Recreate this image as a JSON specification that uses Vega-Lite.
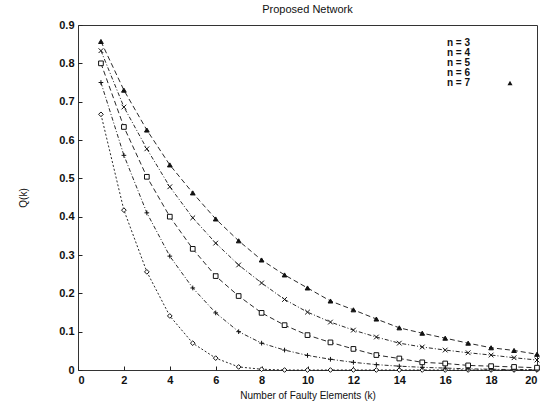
{
  "$schema": "https://vega.github.io/schema/vega-lite/v6.json",
  "autosize": {"type": "none"},
  "padding": {"left": 78, "top": 25, "right": 11, "bottom": 34},
  "width": 459,
  "height": 345,
  "title": {"text": "Proposed Network", "fontSize": 11, "fontWeight": "normal", "font": "Liberation Sans", "offset": 4, "color": "#111"},
  "data": {"values": [
    {"n": "n = 3", "k": 1, "q": 0.667}, {"n": "n = 3", "k": 2, "q": 0.417}, {"n": "n = 3", "k": 3, "q": 0.256}, {"n": "n = 3", "k": 4, "q": 0.141}, {"n": "n = 3", "k": 5, "q": 0.07}, {"n": "n = 3", "k": 6, "q": 0.031}, {"n": "n = 3", "k": 7, "q": 0.008}, {"n": "n = 3", "k": 8, "q": 0.002}, {"n": "n = 3", "k": 9, "q": 0}, {"n": "n = 3", "k": 10, "q": 0}, {"n": "n = 3", "k": 11, "q": 0}, {"n": "n = 3", "k": 12, "q": 0}, {"n": "n = 3", "k": 13, "q": 0}, {"n": "n = 3", "k": 14, "q": 0}, {"n": "n = 3", "k": 15, "q": 0}, {"n": "n = 3", "k": 16, "q": 0}, {"n": "n = 3", "k": 17, "q": 0}, {"n": "n = 3", "k": 18, "q": 0}, {"n": "n = 3", "k": 19, "q": 0}, {"n": "n = 3", "k": 20, "q": 0},
    {"n": "n = 4", "k": 1, "q": 0.75}, {"n": "n = 4", "k": 2, "q": 0.56}, {"n": "n = 4", "k": 3, "q": 0.41}, {"n": "n = 4", "k": 4, "q": 0.297}, {"n": "n = 4", "k": 5, "q": 0.214}, {"n": "n = 4", "k": 6, "q": 0.149}, {"n": "n = 4", "k": 7, "q": 0.1}, {"n": "n = 4", "k": 8, "q": 0.07}, {"n": "n = 4", "k": 9, "q": 0.052}, {"n": "n = 4", "k": 10, "q": 0.038}, {"n": "n = 4", "k": 11, "q": 0.028}, {"n": "n = 4", "k": 12, "q": 0.02}, {"n": "n = 4", "k": 13, "q": 0.014}, {"n": "n = 4", "k": 14, "q": 0.01}, {"n": "n = 4", "k": 15, "q": 0.007}, {"n": "n = 4", "k": 16, "q": 0.005}, {"n": "n = 4", "k": 17, "q": 0.003}, {"n": "n = 4", "k": 18, "q": 0.002}, {"n": "n = 4", "k": 19, "q": 0.001}, {"n": "n = 4", "k": 20, "q": 0.001},
    {"n": "n = 5", "k": 1, "q": 0.8}, {"n": "n = 5", "k": 2, "q": 0.634}, {"n": "n = 5", "k": 3, "q": 0.504}, {"n": "n = 5", "k": 4, "q": 0.4}, {"n": "n = 5", "k": 5, "q": 0.316}, {"n": "n = 5", "k": 6, "q": 0.245}, {"n": "n = 5", "k": 7, "q": 0.193}, {"n": "n = 5", "k": 8, "q": 0.149}, {"n": "n = 5", "k": 9, "q": 0.117}, {"n": "n = 5", "k": 10, "q": 0.091}, {"n": "n = 5", "k": 11, "q": 0.072}, {"n": "n = 5", "k": 12, "q": 0.055}, {"n": "n = 5", "k": 13, "q": 0.039}, {"n": "n = 5", "k": 14, "q": 0.03}, {"n": "n = 5", "k": 15, "q": 0.02}, {"n": "n = 5", "k": 16, "q": 0.017}, {"n": "n = 5", "k": 17, "q": 0.012}, {"n": "n = 5", "k": 18, "q": 0.01}, {"n": "n = 5", "k": 19, "q": 0.008}, {"n": "n = 5", "k": 20, "q": 0.006},
    {"n": "n = 6", "k": 1, "q": 0.833}, {"n": "n = 6", "k": 2, "q": 0.686}, {"n": "n = 6", "k": 3, "q": 0.577}, {"n": "n = 6", "k": 4, "q": 0.478}, {"n": "n = 6", "k": 5, "q": 0.397}, {"n": "n = 6", "k": 6, "q": 0.331}, {"n": "n = 6", "k": 7, "q": 0.274}, {"n": "n = 6", "k": 8, "q": 0.227}, {"n": "n = 6", "k": 9, "q": 0.184}, {"n": "n = 6", "k": 10, "q": 0.151}, {"n": "n = 6", "k": 11, "q": 0.125}, {"n": "n = 6", "k": 12, "q": 0.104}, {"n": "n = 6", "k": 13, "q": 0.086}, {"n": "n = 6", "k": 14, "q": 0.07}, {"n": "n = 6", "k": 15, "q": 0.06}, {"n": "n = 6", "k": 16, "q": 0.052}, {"n": "n = 6", "k": 17, "q": 0.045}, {"n": "n = 6", "k": 18, "q": 0.039}, {"n": "n = 6", "k": 19, "q": 0.032}, {"n": "n = 6", "k": 20, "q": 0.026},
    {"n": "n = 7", "k": 1, "q": 0.857}, {"n": "n = 7", "k": 2, "q": 0.73}, {"n": "n = 7", "k": 3, "q": 0.626}, {"n": "n = 7", "k": 4, "q": 0.535}, {"n": "n = 7", "k": 5, "q": 0.462}, {"n": "n = 7", "k": 6, "q": 0.394}, {"n": "n = 7", "k": 7, "q": 0.337}, {"n": "n = 7", "k": 8, "q": 0.287}, {"n": "n = 7", "k": 9, "q": 0.248}, {"n": "n = 7", "k": 10, "q": 0.214}, {"n": "n = 7", "k": 11, "q": 0.18}, {"n": "n = 7", "k": 12, "q": 0.157}, {"n": "n = 7", "k": 13, "q": 0.133}, {"n": "n = 7", "k": 14, "q": 0.11}, {"n": "n = 7", "k": 15, "q": 0.096}, {"n": "n = 7", "k": 16, "q": 0.083}, {"n": "n = 7", "k": 17, "q": 0.07}, {"n": "n = 7", "k": 18, "q": 0.058}, {"n": "n = 7", "k": 19, "q": 0.051}, {"n": "n = 7", "k": 20, "q": 0.041}
  ]},
  "layer": [
    {
      "mark": {"type": "line", "color": "#111", "strokeWidth": 0.9},
      "encoding": {
        "x": {"field": "k", "type": "quantitative", "scale": {"domain": [0, 20], "nice": false},
              "axis": {"title": "Number of Faulty Elements (k)", "values": [0,2,4,6,8,10,12,14,16,18,20], "grid": false, "tickSize": -4, "labelPadding": 8, "titlePadding": 5, "labelOverlap": false}},
        "y": {"field": "q", "type": "quantitative", "scale": {"domain": [0, 0.9], "nice": false},
              "axis": {"title": "Q(k)", "values": [0,0.1,0.2,0.3,0.4,0.5,0.6,0.7,0.8,0.9], "format": ".1~f", "grid": false, "tickSize": -4, "labelPadding": 8, "titlePadding": 30, "labelOverlap": false}},
        "strokeDash": {"field": "n", "type": "nominal",
                       "scale": {"domain": ["n = 3", "n = 4", "n = 5", "n = 6", "n = 7"], "range": [[2, 2], [4, 2, 1, 2], [5, 3], [4, 2, 1, 2], [5, 3]]},
                       "legend": {"title": null, "orient": "none", "legendX": 427, "legendY": 13}}
      }
    },
    {
      "mark": {"type": "point", "filled": true, "stroke": "#111", "strokeWidth": 1, "size": 22, "opacity": 1},
      "encoding": {
        "x": {"field": "k", "type": "quantitative",
              "axis": {"title": "Number of Faulty Elements (k)", "values": [0,2,4,6,8,10,12,14,16,18,20], "grid": false, "tickSize": -4, "labelPadding": 8, "titlePadding": 5, "labelOverlap": false}},
        "y": {"field": "q", "type": "quantitative",
              "axis": {"title": "Q(k)", "values": [0,0.1,0.2,0.3,0.4,0.5,0.6,0.7,0.8,0.9], "format": ".1~f", "grid": false, "tickSize": -4, "labelPadding": 8, "titlePadding": 30, "labelOverlap": false}},
        "shape": {"field": "n", "type": "nominal",
                  "scale": {"domain": ["n = 3", "n = 4", "n = 5", "n = 6", "n = 7"], "range": ["diamond", "M-1,0L1,0M0,-1L0,1", "square", "M-1,-1L1,1M-1,1L1,-1", "triangle-up"]},
                  "legend": {"title": null, "orient": "none", "legendX": 427, "legendY": 13}},
        "fill": {"field": "n", "type": "nominal",
                 "scale": {"domain": ["n = 3", "n = 4", "n = 5", "n = 6", "n = 7"], "range": ["white", "white", "white", "white", "#111"]},
                 "legend": {"title": null, "orient": "none", "legendX": 427, "legendY": 13}}
      }
    }
  ],
  "config": {
    "font": "Liberation Sans",
    "view": {"stroke": "#333", "strokeWidth": 1},
    "axis": {"domain": false, "labelOverlap": false, "tickColor": "#222", "labelFont": "Liberation Sans", "labelFontSize": 11, "labelFontWeight": "bold", "labelColor": "#111", "titleFont": "Liberation Sans", "titleFontSize": 10, "titleFontWeight": "normal", "titleColor": "#111"},
    "legend": {"labelFontSize": 10, "labelFontWeight": "bold", "labelColor": "#111", "symbolStrokeColor": "#111", "symbolSize": 25, "rowPadding": 0, "labelAlign": "right", "labelOffset": -45, "symbolStrokeWidth": 1}
  }
}
